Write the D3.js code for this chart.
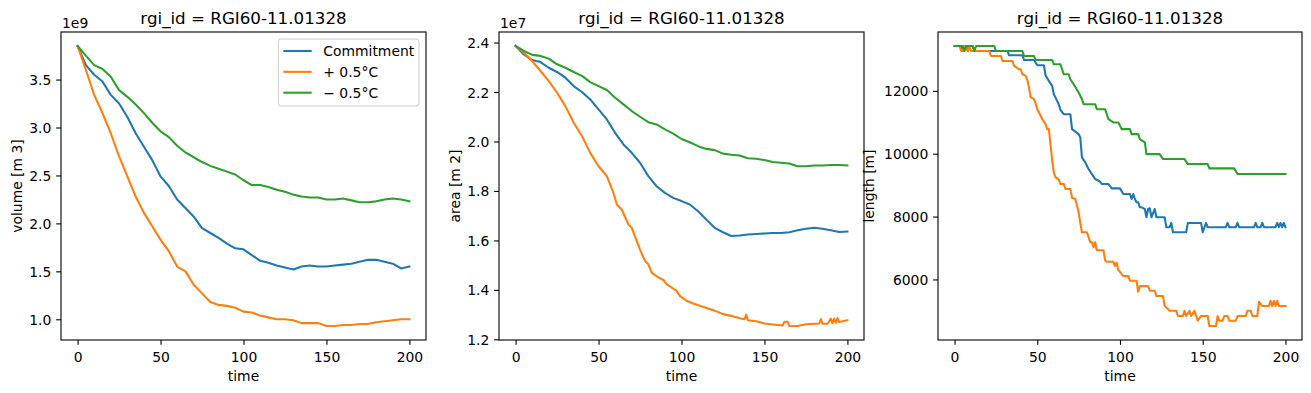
<!DOCTYPE html>
<html><head><meta charset="utf-8">
<script src="https://cdn.jsdelivr.net/npm/d3@7"></script>
<style>body{margin:0;background:#fff}svg{display:block}text{font-family:"DejaVu Sans",sans-serif;fill:#000}</style>
</head><body><svg id="c" width="1311" height="393"></svg>
<script>
// ---------------- DATA ----------------
const titleText = "rgi_id = RGI60-11.01328";
const seriesNames = ["Commitment", "+ 0.5°C", "\u2212 0.5°C"];
const seriesColors = ["#1f77b4", "#ff7f0e", "#2ca02c"];
const xTicks = [0, 50, 100, 150, 200];

// volume (units of 1e9 m3)
const volumeTime = [0,5,10,15,20,25,30,35,40,45,50,55,60,65,70,75,80,85,90,95,100,105,110,115,120,125,130,135,140,145,150,155,160,165,170,175,180,185,190,195,200];
const volumeCommitment = [3.85,3.65,3.55,3.48,3.34,3.25,3.11,2.94,2.80,2.66,2.49,2.39,2.25,2.16,2.07,1.95,1.90,1.85,1.79,1.74,1.73,1.67,1.61,1.59,1.56,1.54,1.52,1.55,1.56,1.55,1.55,1.56,1.57,1.58,1.60,1.62,1.62,1.60,1.58,1.53,1.55];
const volumeWarm = [3.85,3.60,3.34,3.15,2.94,2.70,2.49,2.28,2.11,1.97,1.83,1.71,1.55,1.50,1.36,1.27,1.18,1.15,1.14,1.12,1.08,1.07,1.04,1.02,1.00,1.00,0.99,0.96,0.96,0.96,0.93,0.93,0.94,0.94,0.95,0.95,0.97,0.98,0.99,1.00,1.00];
const volumeCool = [3.85,3.75,3.65,3.61,3.53,3.39,3.32,3.24,3.15,3.05,2.96,2.90,2.81,2.74,2.69,2.64,2.60,2.57,2.54,2.51,2.45,2.40,2.40,2.38,2.35,2.33,2.30,2.28,2.27,2.27,2.25,2.25,2.26,2.24,2.22,2.22,2.23,2.25,2.26,2.25,2.23];
const volumeTicks = [1.0,1.5,2.0,2.5,3.0,3.5];

// area (units of 1e7 m2)
const areaTime = volumeTime;
const areaCommitment = [2.386,2.352,2.329,2.321,2.298,2.281,2.258,2.224,2.200,2.170,2.130,2.089,2.035,1.988,1.954,1.914,1.860,1.819,1.792,1.772,1.759,1.745,1.718,1.684,1.651,1.633,1.618,1.620,1.624,1.626,1.628,1.630,1.630,1.633,1.641,1.647,1.651,1.647,1.641,1.634,1.636];
const areaCool = [2.386,2.366,2.350,2.346,2.335,2.312,2.298,2.281,2.265,2.240,2.224,2.208,2.177,2.150,2.123,2.100,2.078,2.069,2.049,2.032,2.010,1.997,1.981,1.970,1.965,1.951,1.946,1.943,1.932,1.930,1.925,1.917,1.914,1.911,1.900,1.900,1.903,1.903,1.905,1.905,1.903];
const areaWarmTime = [0,5,10,15,20,25,30,35,40,45,50,55,59,61,64,68,70,75,78,80,82,85,89,91,97,99,103,107,111,116,120,125,130,135,138,139,140,145,150,155,161,162,164,165,170,175,183,184,185,188,190,191,192,193,194,195,200];
const areaWarm = [2.386,2.359,2.325,2.285,2.244,2.197,2.143,2.076,2.022,1.954,1.900,1.860,1.792,1.745,1.725,1.664,1.651,1.563,1.517,1.504,1.470,1.455,1.440,1.423,1.396,1.376,1.356,1.345,1.336,1.325,1.316,1.302,1.295,1.285,1.281,1.300,1.277,1.273,1.264,1.260,1.256,1.271,1.271,1.254,1.254,1.261,1.264,1.282,1.263,1.263,1.284,1.265,1.284,1.267,1.286,1.270,1.277];
const areaTicks = [1.2,1.4,1.6,1.8,2.0,2.2,2.4];

// length (m)
const lengthCommitmentTime = [0,4,5,6,7,8,9,11,12,32,33,41,42,48,50,54,55,57,59,60,61,63,64,66,70,71,75,76,77,79,81,83,85,88,89,93,95,100,102,106,107,108,109,110,111,112,113,115,116,117,118,119,121,122,127,128,130,131,132,140,141,149,150,152,153,164,165,166,170,171,172,181,182,183,185,186,187,194,195,196,197,198,199,200];
const lengthCommitment = [13427,13427,13268,13427,13427,13268,13427,13427,13268,13268,13131,13131,12983,12983,12814,12814,12497,12317,12158,11893,11788,11576,11396,11258,11258,10782,10623,10518,9883,9724,9513,9353,9195,9110,9036,9036,8898,8898,8718,8718,8560,8718,8560,8454,8454,8295,8295,8242,7977,8242,8264,7977,8242,7977,7977,7661,7661,7798,7502,7502,7798,7798,7502,7798,7661,7661,7798,7661,7661,7798,7661,7661,7798,7661,7661,7798,7661,7661,7798,7661,7798,7661,7798,7661];
const lengthWarmTime = [0,3,4,5,6,8,9,10,21,22,28,29,35,36,39,40,41,43,44,45,46,48,49,50,52,53,55,56,57,58,59,60,61,63,64,66,67,70,71,73,74,75,76,77,80,82,83,84,85,86,90,91,92,96,97,98,99,100,102,105,106,110,111,112,117,118,121,122,126,127,130,134,135,138,139,140,142,143,145,147,149,153,154,158,159,160,162,163,165,166,170,171,176,177,179,180,183,184,186,190,191,192,193,194,195,196,200];
const lengthWarm = [13427,13427,13268,13268,13427,13268,13427,13268,13268,13110,13110,12951,12951,12792,12686,12686,12528,12475,12350,12100,11800,11735,11600,11417,11216,11099,10941,10782,10782,10300,9800,9400,9257,9175,9036,9036,8877,8877,8600,8560,8348,8137,7800,7502,7502,7185,7185,7026,7185,6930,6930,6613,6561,6561,6423,6529,6296,6243,6106,6106,5958,5958,5609,5788,5788,5640,5640,5471,5471,5154,5005,5005,4836,4836,5005,4836,5005,4836,5005,4688,4836,4836,4519,4519,4836,4688,4688,4836,4836,4688,4688,4836,4836,5005,5005,4836,4836,5291,5154,5154,5323,5154,5323,5154,5323,5154,5154];
const lengthCoolTime = [0,5,6,7,11,12,13,24,25,41,42,48,49,59,60,64,66,69,70,72,75,77,78,85,86,91,93,96,99,101,106,107,111,112,115,116,124,126,139,141,153,154,169,171,200];
const lengthCool = [13427,13427,13268,13427,13427,13268,13427,13427,13268,13268,13110,13110,12983,12983,12845,12845,12528,12528,12369,12211,11946,11735,11576,11576,11417,11417,11099,10994,10994,10782,10782,10623,10623,10465,10359,9988,9988,9830,9830,9671,9671,9533,9533,9353,9353];
const lengthTicks = [6000,8000,10000,12000];

// ---------------- DRAW ----------------
const svg = d3.select("#c");
const FS = 13.9;
const panels = [
  {x0:61, x1:426, ylabel:"volume [m 3]", ylabX:17, offset:"1e9", ticks:volumeTicks, fmt:d3.format(".1f"),
   series:[[volumeTime,volumeCommitment],[volumeTime,volumeWarm],[volumeTime,volumeCool]], legend:true},
  {x0:499, x1:864, ylabel:"area [m 2]", ylabX:455, offset:"1e7", ticks:areaTicks, fmt:d3.format(".1f"),
   series:[[areaTime,areaCommitment],[areaWarmTime,areaWarm],[areaTime,areaCool]]},
  {x0:938, x1:1302, ylabel:"length [m]", ylabX:869, offset:null, ticks:lengthTicks, fmt:d3.format("d"),
   series:[[lengthCommitmentTime,lengthCommitment],[lengthWarmTime,lengthWarm],[lengthCoolTime,lengthCool]]}
];
const yTop = 32, yBot = 340;
const TL = 4.86;

panels.forEach(p => {
  const g = svg.append("g");
  const x = d3.scaleLinear().domain([-10, 210]).range([p.x0, p.x1]);
  let all = [];
  p.series.forEach(s => all = all.concat(s[1]));
  const mn = d3.min(all), mx = d3.max(all), r = mx - mn;
  const y = d3.scaleLinear().domain([mn - 0.05*r, mx + 0.05*r]).range([yBot, yTop]);

  // lines
  p.series.forEach((s, i) => {
    const pts = s[0].map((t, k) => [t, s[1][k]]);
    g.append("path").datum(pts)
      .attr("fill","none").attr("stroke",seriesColors[i]).attr("stroke-width",2.08)
      .attr("stroke-linejoin","round").attr("stroke-linecap","square")
      .attr("d", d3.line().x(d => x(d[0])).y(d => y(d[1])));
  });

  // axes
  const ax = g.append("g").attr("transform",`translate(0,${yBot})`)
    .call(d3.axisBottom(x).tickValues(xTicks).tickFormat(d3.format("d")).tickSize(TL).tickPadding(TL).tickSizeOuter(0));
  ax.select(".domain").remove();
  ax.selectAll("text").attr("dy", null).attr("y", 22).style("font-size", FS+"px").style("font-family","DejaVu Sans");
  const ay = g.append("g").attr("transform",`translate(${p.x0},0)`)
    .call(d3.axisLeft(y).tickValues(p.ticks).tickFormat(p.fmt).tickSize(TL).tickPadding(TL).tickSizeOuter(0));
  ay.select(".domain").remove();
  ay.selectAll("text").attr("dy","0.36em").style("font-size", FS+"px").style("font-family","DejaVu Sans");
  g.selectAll(".tick line").attr("stroke","#000").attr("stroke-width",1.1);

  // frame
  g.append("rect").attr("x",p.x0).attr("y",yTop).attr("width",p.x1-p.x0).attr("height",yBot-yTop)
    .attr("fill","none").attr("stroke","#000").attr("stroke-width",1.1);

  // title
  g.append("text").attr("x",(p.x0+p.x1)/2).attr("y",24).attr("text-anchor","middle")
    .style("font-size","16.7px").text(titleText);
  // x label
  g.append("text").attr("x",(p.x0+p.x1)/2).attr("y",381).attr("text-anchor","middle")
    .style("font-size",FS+"px").text("time");
  // y label
  g.append("text").attr("transform",`translate(${p.ylabX},${(yTop+yBot)/2}) rotate(-90)`)
    .attr("text-anchor","middle").attr("dy","0.36em").style("font-size",FS+"px").text(p.ylabel);
  // offset text
  if (p.offset) g.append("text").attr("x",p.x0+1).attr("y",28).style("font-size",FS+"px").text(p.offset);

  // legend
  if (p.legend) {
    const lg = g.append("g");
    lg.append("rect").attr("x",278.3).attr("y",39).attr("width",140.7).attr("height",67).attr("rx",2.8)
      .attr("fill","#fff").attr("fill-opacity",0.8).attr("stroke","#cccccc").attr("stroke-width",1);
    seriesNames.forEach((n, i) => {
      const cy = 51 + i*20.85;
      lg.append("line").attr("x1",283.3).attr("x2",311.7).attr("y1",cy).attr("y2",cy)
        .attr("stroke",seriesColors[i]).attr("stroke-width",2.08);
      lg.append("text").attr("x",323.3).attr("y",cy).attr("dy","0.36em").style("font-size",FS+"px").text(n);
    });
  }
});
</script>
</body></html>
